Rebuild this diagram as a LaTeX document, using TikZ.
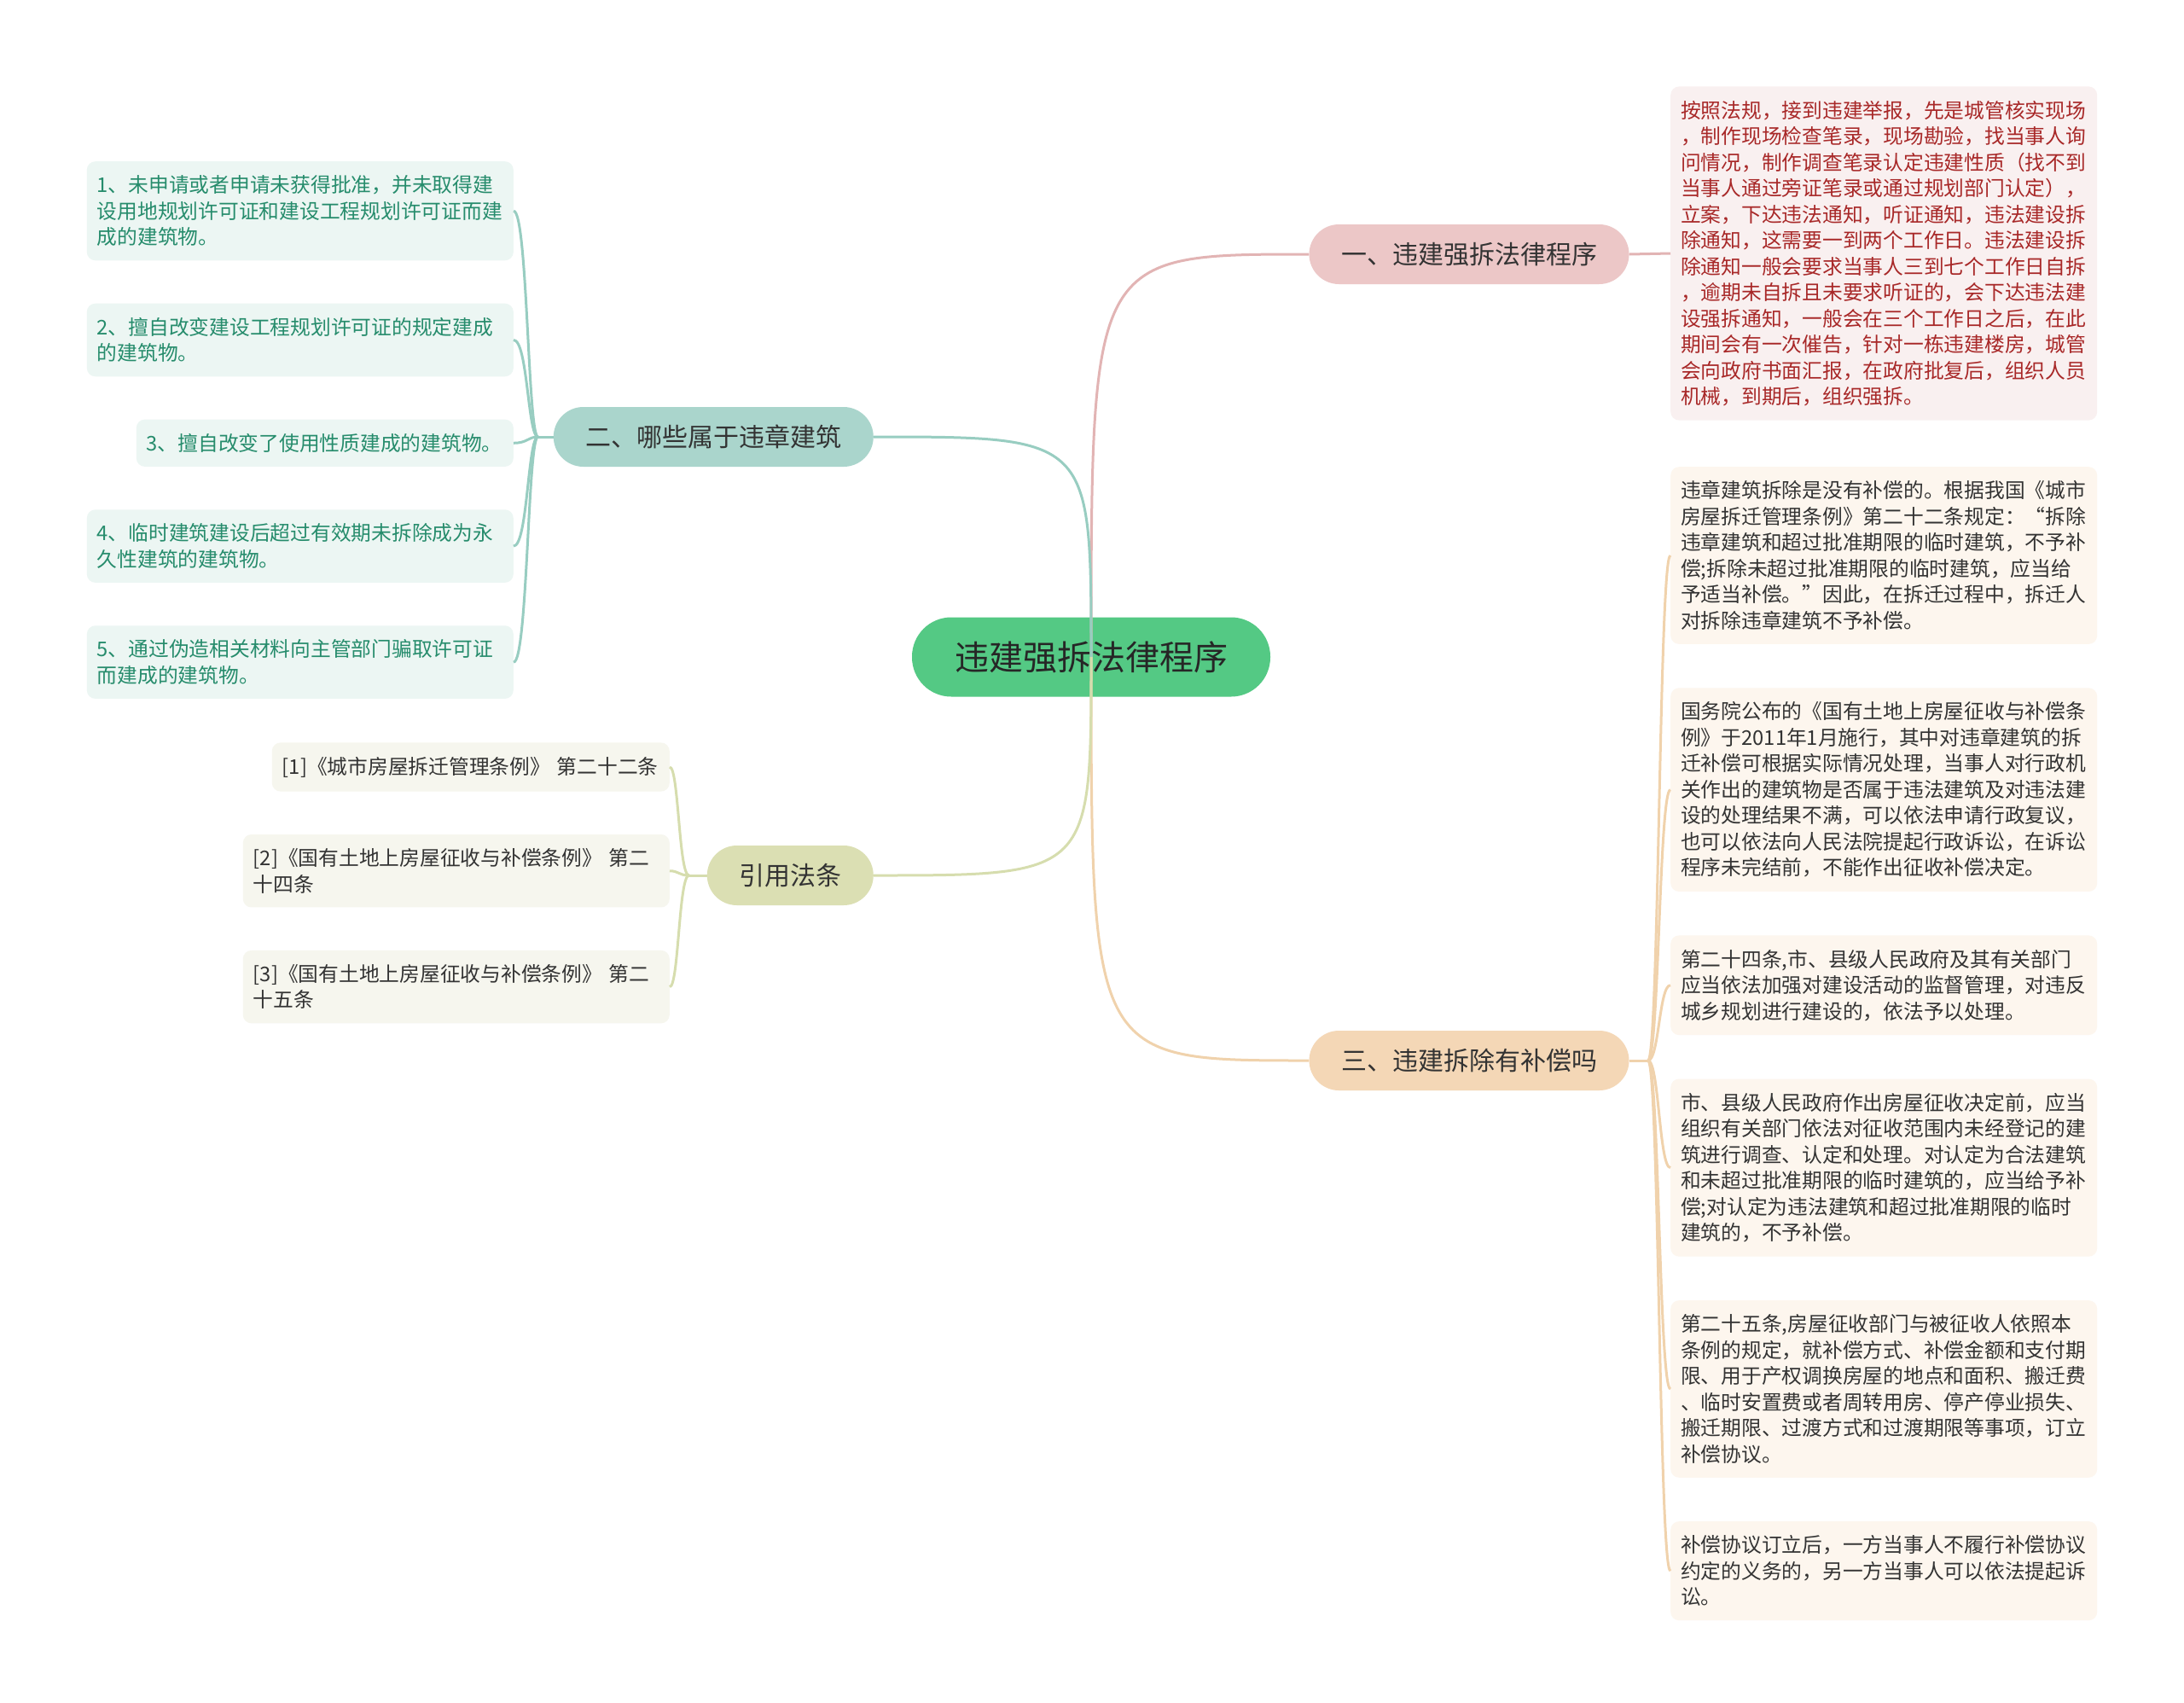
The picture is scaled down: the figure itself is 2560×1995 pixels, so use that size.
\documentclass[tikz,border=0pt]{standalone}
\usepackage{fontspec}
\setmainfont{Noto Sans CJK SC}
\usepackage{tikz}
\usetikzlibrary{positioning, calc}

\definecolor{rootfill}{RGB}{84,201,132}
\definecolor{pinkfill}{RGB}{236,199,199}
\definecolor{pinkline}{RGB}{226,180,180}
\definecolor{tealfill}{RGB}{170,213,204}
\definecolor{tealline}{RGB}{152,205,193}
\definecolor{olivefill}{RGB}{219,223,179}
\definecolor{oliveline}{RGB}{214,221,174}
\definecolor{peachfill}{RGB}{244,215,182}
\definecolor{peachline}{RGB}{240,210,172}
\definecolor{redbg}{RGB}{249,240,240}
\definecolor{redtext}{RGB}{168,40,40}
\definecolor{peachbg}{RGB}{253,246,238}
\definecolor{tealbg}{RGB}{236,246,243}
\definecolor{tealtext}{RGB}{38,140,108}
\definecolor{olivebg}{RGB}{246,246,238}
\definecolor{darktext}{RGB}{51,51,51}

\begin{document}
\begin{tikzpicture}[x=1pt, y=-1pt,
    rootbox/.style={rectangle, rounded corners=46pt, fill=rootfill, text=black!85, minimum height=93pt, inner xsep=50pt, font=\fontsize{40pt}{48pt}\selectfont},
    topicbox/.style={rectangle, rounded corners=35pt, minimum height=70pt, inner xsep=37.5pt, text=darktext, font=\fontsize{30pt}{36pt}\selectfont},
    leafbox/.style={rectangle, rounded corners=10pt, align=left, text width=476pt, inner xsep=12pt, inner ysep=16.5pt, font=\fontsize{23.75pt}{30.5pt}\selectfont},
    notebox/.style={leafbox, fill=peachbg, text=darktext},
    rulebox/.style={leafbox, fill=tealbg, text=tealtext},
    citebox/.style={leafbox, fill=olivebg, text=darktext},
    linkline/.style={line width=3pt},
]
\useasboundingbox (0,0) rectangle (2560,1995);
\fill[white] (0,0) rectangle (2560,1995);

% Center
\node[rootbox] (root) at (1279,770) {违建强拆法律程序};
% Topics
\node[topicbox, fill=pinkfill] (t1) at (1722,298) {一、违建强拆法律程序};
\node[topicbox, fill=tealfill, anchor=east] (t2) at (1024,512) {二、哪些属于违章建筑};
\node[topicbox, fill=olivefill, anchor=east] (t4) at (1024,1026) {引用法条};
\node[topicbox, fill=peachfill] (t3) at (1722,1243) {三、违建拆除有补偿吗};

% Topic 1
\node[leafbox, fill=redbg, text=redtext, anchor=west] (r1) at (1958,297) {按照法规，接到违建举报，先是城管核实现场\\，制作现场检查笔录，现场勘验，找当事人询\\问情况，制作调查笔录认定违建性质（找不到\\当事人通过旁证笔录或通过规划部门认定），\\立案，下达违法通知，听证通知，违法建设拆\\除通知，这需要一到两个工作日。违法建设拆\\除通知一般会要求当事人三到七个工作日自拆\\，逾期未自拆且未要求听证的，会下达违法建\\设强拆通知，一般会在三个工作日之后，在此\\期间会有一次催告，针对一栋违建楼房，城管\\会向政府书面汇报，在政府批复后，组织人员\\机械，到期后，组织强拆。};

% Topic 3
\node[notebox, anchor=north west] (n1) at (1958,547) {违章建筑拆除是没有补偿的。根据我国《城市\\房屋拆迁管理条例》第二十二条规定：“拆除\\违章建筑和超过批准期限的临时建筑，不予补\\偿;拆除未超过批准期限的临时建筑，应当给\\予适当补偿。”因此，在拆迁过程中，拆迁人\\对拆除违章建筑不予补偿。};
\node[notebox, below=51pt of n1] (n2) {国务院公布的《国有土地上房屋征收与补偿条\\例》于2011年1月施行，其中对违章建筑的拆\\迁补偿可根据实际情况处理，当事人对行政机\\关作出的建筑物是否属于违法建筑及对违法建\\设的处理结果不满，可以依法申请行政复议，\\也可以依法向人民法院提起行政诉讼，在诉讼\\程序未完结前，不能作出征收补偿决定。};
\node[notebox, below=51pt of n2] (n3) {第二十四条,市、县级人民政府及其有关部门\\应当依法加强对建设活动的监督管理，对违反\\城乡规划进行建设的，依法予以处理。};
\node[notebox, below=51pt of n3] (n4) {市、县级人民政府作出房屋征收决定前，应当\\组织有关部门依法对征收范围内未经登记的建\\筑进行调查、认定和处理。对认定为合法建筑\\和未超过批准期限的临时建筑的，应当给予补\\偿;对认定为违法建筑和超过批准期限的临时\\建筑的，不予补偿。};
\node[notebox, below=51pt of n4] (n5) {第二十五条,房屋征收部门与被征收人依照本\\条例的规定，就补偿方式、补偿金额和支付期\\限、用于产权调换房屋的地点和面积、搬迁费\\、临时安置费或者周转用房、停产停业损失、\\搬迁期限、过渡方式和过渡期限等事项，订立\\补偿协议。};
\node[notebox, below=51pt of n5] (n6) {补偿协议订立后，一方当事人不履行补偿协议\\约定的义务的，另一方当事人可以依法提起诉\\讼。};

% Topic 2
\node[rulebox, anchor=north east] (s1) at (602,189) {1、未申请或者申请未获得批准，并未取得建\\设用地规划许可证和建设工程规划许可证而建\\成的建筑物。};
\node[rulebox, below=50pt of s1.south east, anchor=north east] (s2) {2、擅自改变建设工程规划许可证的规定建成\\的建筑物。};
\node[rulebox, text width=418pt, below=50pt of s2.south east, anchor=north east] (s3) {3、擅自改变了使用性质建成的建筑物。};
\node[rulebox, below=50pt of s3.south east, anchor=north east] (s4) {4、临时建筑建设后超过有效期未拆除成为永\\久性建筑的建筑物。};
\node[rulebox, below=50pt of s4.south east, anchor=north east] (s5) {5、通过伪造相关材料向主管部门骗取许可证\\而建成的建筑物。};

% Citations
\node[citebox, text width=442pt, anchor=east] (c1) at (785,899) {[1]《城市房屋拆迁管理条例》 第二十二条};
\node[citebox, below=50pt of c1.south east, anchor=north east] (c2) {[2]《国有土地上房屋征收与补偿条例》 第二\\十四条};
\node[citebox, below=50pt of c2.south east, anchor=north east] (c3) {[3]《国有土地上房屋征收与补偿条例》 第二\\十五条};

% Connectors
\coordinate (j2) at ($(t2.west)+(-18,0)$);
\coordinate (j3) at ($(t3.east)+(22,0)$);
\coordinate (j4) at ($(t4.west)+(-21,0)$);

\foreach \t/\c in {t1/pinkline, t3/peachline}
  \draw[linkline, \c] (root.center) .. controls (root.center |- \t.west) and (root.center |- \t.west) .. (\t.west);
\foreach \t/\c in {t2/tealline, t4/oliveline}
  \draw[linkline, \c] (root.center) .. controls (root.center |- \t.east) and (root.center |- \t.east) .. (\t.east);

\draw[linkline, pinkline] (t1.east) -- (r1.west);

\draw[linkline, tealline] (t2.west) -- (j2);
\foreach \s in {s1,s2,s3,s4,s5}
  \draw[linkline, tealline] (j2) .. controls ($(j2)+(-12,0)$) and ($(j2 |- \s.east)+(-12,0)$) .. (\s.east);

\draw[linkline, oliveline] (t4.west) -- (j4);
\foreach \s in {c1,c2,c3}
  \draw[linkline, oliveline] (j4) .. controls ($(j4)+(-12,0)$) and ($(j4 |- \s.east)+(-12,0)$) .. (\s.east);

\draw[linkline, peachline] (t3.east) -- (j3);
\foreach \s in {n1,n2,n3,n4,n5,n6}
  \draw[linkline, peachline] (j3) .. controls ($(j3)+(13,0)$) and ($(j3 |- \s.west)+(13,0)$) .. (\s.west);
\end{tikzpicture}
\end{document}
